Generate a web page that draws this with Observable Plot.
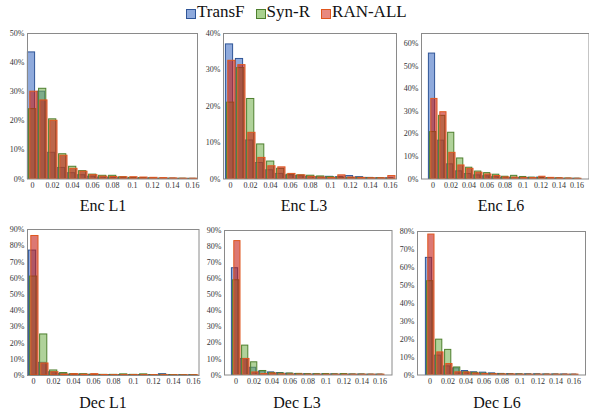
<!DOCTYPE html>
<html><head><meta charset="utf-8">
<script src="https://cdn.jsdelivr.net/npm/d3@7"></script>
<script src="https://cdn.jsdelivr.net/npm/@observablehq/plot@0.6"></script>
<style>
body{margin:0;background:#fff;}
#root{position:relative;width:589px;height:415px;overflow:hidden;font-family:"Liberation Serif","Times New Roman",serif;background:#fff;}
.panel{position:absolute;}
#legend{position:absolute;top:2px;left:186px;display:flex;align-items:center;font-family:"Liberation Serif","Times New Roman",serif;font-size:17px;color:#111;white-space:nowrap;}
#legend .item{display:flex;align-items:center;margin-right:11px;}
#legend .sw{width:8px;height:8px;border:1px solid;margin-right:1px;margin-top:3px;}
#overlay{position:absolute;left:0;top:0;}
</style></head><body><div id="root"></div>
<script>
// ---- data ----
const bins = ["0","0.01","0.02","0.03","0.04","0.05","0.06","0.07","0.08","0.09","0.1","0.11","0.12","0.13","0.14","0.15","0.16"];
const tickLabels = ["0","0.02","0.04","0.06","0.08","0.1","0.12","0.14","0.16"];
const series = ["TransF","Syn-R","RAN-ALL"];
const panelNames = ["Enc L1","Enc L3","Enc L6","Dec L1","Dec L3","Dec L6"];
const yMax = [0.5, 0.4, 0.645, 0.9, 0.9, 0.8];

// percentages per bin
const encL1TransF = [43.5,30,9,3.8,2,1.3,0.8,0.5,0.4,0.3,0.2,0.2,0.2,0.1,0.1,0.05,0.05];
const encL1SynR   = [24,31,20.5,8.5,4.2,2.7,1.5,1.1,1.1,0.6,0.4,0.3,0.2,0.1,0.1,0.1,0.05];
const encL1RanAll = [30,27,20,8,3.5,2.5,1.3,0.8,0.7,0.6,0.6,0.5,0.4,0.3,0.2,0.1,0.1];

const encL3TransF = [37,33,10.6,4.4,2.4,1.4,1,0.8,0.6,0.5,0.6,0.5,0.8,0.5,0.3,0.2,0.2];
const encL3SynR   = [21,30.5,22,9.5,4.8,2.8,1.2,1,0.9,0.7,0.5,0.4,0.3,0.3,0.2,0.2,0.1];
const encL3RanAll = [32.5,31.3,12.7,5.8,3.5,3.2,1.4,1,0.6,0.4,0.3,1,0.4,0.3,0.2,0.2,0.8];

const encL6TransF = [55.6,17,6.5,3.4,2.2,1.6,1.2,0.8,0.6,0.5,0.5,0.5,0.6,0.3,0.2,0.1,0.1];
const encL6SynR   = [20.8,28,20.5,9.1,5,3.3,2.6,1.9,1,1.4,0.9,0.6,0.5,0.4,0.3,0.2,0.1];
const encL6RanAll = [35.5,29.6,11.6,6,4.5,2.8,2,1.3,0.7,0.6,0.5,0.4,1,0.5,0.3,0.2,0.1];

const decL1TransF = [77,7.8,2,1,0.5,0.5,0.4,0.3,0.3,0.3,0.3,0.3,0.3,0.8,0.3,0.2,0.2];
const decL1SynR   = [61,25.3,3.1,1.5,0.8,0.8,0.5,0.4,0.4,0.7,0.4,0.7,0.3,0.4,0.3,0.2,0.2];
const decL1RanAll = [86,7.4,2,0.6,0.8,0.5,0.8,0.3,0.2,0.2,0.2,0.2,0.2,0.2,0.1,0.1,0.1];

const decL3TransF = [66.5,10,4.5,2.2,1.6,1.2,0.8,0.6,0.5,0.4,0.4,0.4,0.3,0.3,0.3,0.2,0.2];
const decL3SynR   = [59,18.3,7.9,2.5,1.3,1,0.9,0.7,0.5,0.5,0.6,0.4,0.6,0.3,0.3,0.2,0.2];
const decL3RanAll = [83.4,10,1.6,0.6,0.9,0.4,0.3,0.3,0.2,0.2,0.2,0.2,0.2,0.2,0.2,0.2,0.2];

const decL6TransF = [65.3,10.8,4.8,3.7,2.2,1.5,1.3,0.9,0.6,0.5,0.4,0.4,0.4,0.3,0.3,0.3,0.2];
const decL6SynR   = [52.3,19.7,14,4.2,1.5,1.2,0.8,0.6,0.4,0.3,0.3,0.2,0.2,0.2,0.2,0.1,0.1];
const decL6RanAll = [78.3,12.6,6.1,1.5,1.4,0.8,0.5,0.4,0.3,0.3,0.2,0.2,0.2,0.2,0.2,0.2,0.2];

const panelData = [
  [encL1TransF, encL1SynR, encL1RanAll],
  [encL3TransF, encL3SynR, encL3RanAll],
  [encL6TransF, encL6SynR, encL6RanAll],
  [decL1TransF, decL1SynR, decL1RanAll],
  [decL3TransF, decL3SynR, decL3RanAll],
  [decL6TransF, decL6SynR, decL6RanAll]
];

// ---- layout & style ----
const FONT = "'Liberation Serif', 'Times New Roman', serif";
const frames = [
  {left:27, right:197, top:32.5, bottom:178},
  {left:222.5, right:395.5, top:32.5, bottom:178},
  {left:420.5, right:588, top:32.5, bottom:178},
  {left:27, right:198.5, top:228.5, bottom:374.5},
  {left:224, right:391.5, top:230, bottom:374.5},
  {left:416.5, right:584.5, top:231, bottom:374.5}
];
const titlePos = [
  {x:103, y:211}, {x:304, y:211}, {x:501, y:211},
  {x:103, y:408}, {x:297, y:408}, {x:497, y:408}
];
const fills = ["#4472C4", "#70AD47", "#C41E16"];
const fillOpacity = [0.6, 0.55, 0.6];
const strokes = ["#2F5597", "#4E7F2E", "#E0561E"];
const legendFill = ["#8FAADC", "#A9D18E", "#E88A80"];

const root = document.getElementById("root");

// legend
const legend = document.createElement("div");
legend.id = "legend";
series.forEach((s, k) => {
  const it = document.createElement("div"); it.className = "item";
  const sw = document.createElement("div"); sw.className = "sw";
  sw.style.background = legendFill[k]; sw.style.borderColor = strokes[k];
  const tx = document.createElement("span"); tx.textContent = s;
  it.appendChild(sw); it.appendChild(tx); legend.appendChild(it);
});
root.appendChild(legend);

const mL = 30, mR = 2, mT = 3, mB = 16;
panelNames.forEach((name, p) => {
  const f = frames[p];
  const rows = [];
  series.forEach((s, k) => bins.forEach((b, i) => rows.push({panel: name, series: s, k, bin: b, value: panelData[p][k][i] / 100})));
  const yTicks = d3.range(0, yMax[p] + 1e-9, 0.1);
  const chart = Plot.plot({
    width: (f.right - f.left) + mL + mR,
    height: (f.bottom - f.top) + mT + mB,
    marginLeft: mL, marginRight: mR, marginTop: mT, marginBottom: mB,
    style: {fontFamily: FONT, fontSize: "8px", color: "#333", background: "transparent", overflow: "visible"},
    x: {type: "band", domain: bins, padding: 0, ticks: tickLabels, tickSize: 0, tickPadding: 3, label: null},
    y: {domain: [0, yMax[p]], ticks: yTicks, tickFormat: d3.format(".0%"), tickSize: 0, tickPadding: 3, label: null},
    marks: [
      ...series.map((s, k) => Plot.barY(rows.filter(r => r.series === s), {
        x: "bin", y: "value",
        fill: fills[k], fillOpacity: fillOpacity[k],
        stroke: strokes[k], strokeWidth: 1,
        insetLeft: 0.4, insetRight: 2.4, dx: k * 1.2
      })),
      Plot.frame({stroke: "#8a8a8a"})
    ]
  });
  chart.classList.add("panel");
  chart.style.left = (f.left - mL) + "px";
  chart.style.top = (f.top - mT) + "px";
  root.appendChild(chart);
});

// titles
const svgNS = "http://www.w3.org/2000/svg";
const ov = document.createElementNS(svgNS, "svg");
ov.setAttribute("id", "overlay"); ov.setAttribute("width", 589); ov.setAttribute("height", 415);
panelNames.forEach((name, p) => {
  const t = document.createElementNS(svgNS, "text");
  t.setAttribute("x", titlePos[p].x); t.setAttribute("y", titlePos[p].y);
  t.setAttribute("text-anchor", "middle");
  t.style.fontFamily = FONT;
  t.setAttribute("font-size", "16");
  t.setAttribute("fill", "#111");
  t.textContent = name;
  ov.appendChild(t);
});
root.appendChild(ov);
</script></body></html>
